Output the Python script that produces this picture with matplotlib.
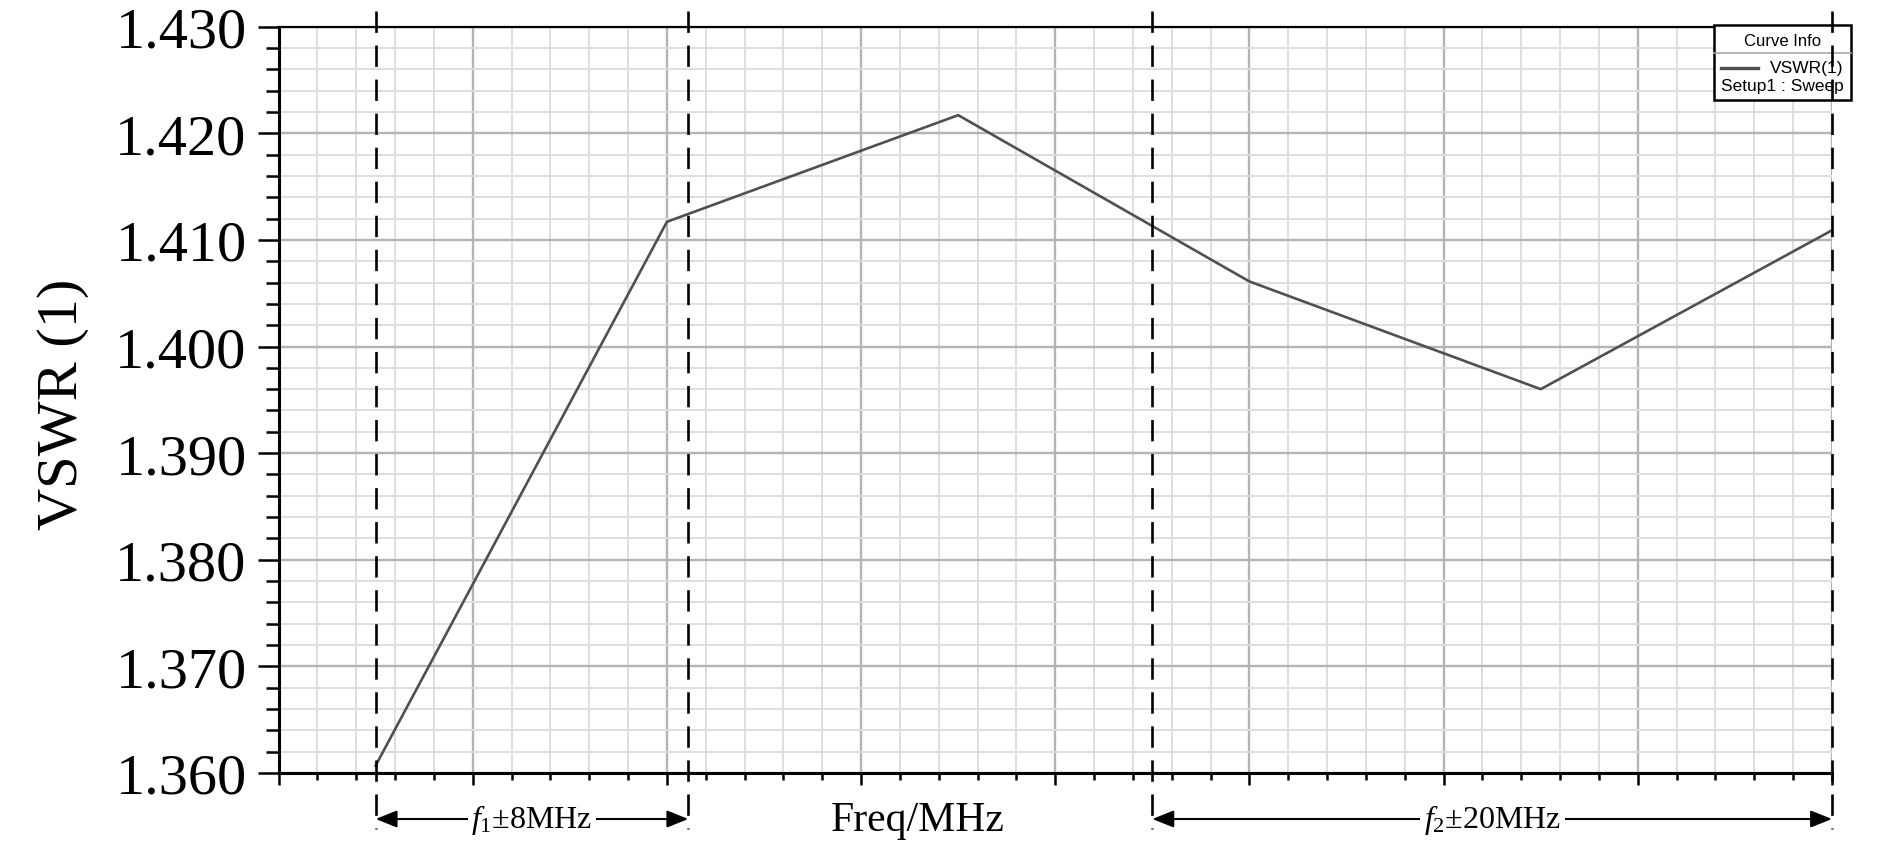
#!/usr/bin/env python3
"""VSWR sweep plot with f1/f2 band markers (HFSS style)."""

import matplotlib
matplotlib.use("Agg")
import matplotlib.pyplot as plt
from matplotlib.patches import Rectangle
from matplotlib.lines import Line2D
from matplotlib.transforms import blended_transform_factory
from matplotlib.ticker import MultipleLocator

plt.rcParams["mathtext.fontset"] = "custom"
plt.rcParams["mathtext.rm"] = "Liberation Serif"
plt.rcParams["mathtext.it"] = "Liberation Serif:italic"

# sweep points (x in major grid divisions, no labels on the x axis)
freq_pos = [0.5, 2.0, 3.5, 5.0, 6.5, 8.0]
vswr     = [1.3607, 1.4117, 1.4217, 1.4061, 1.3960, 1.4109]

# band edges (dashed markers) and their labels
band_edges  = [0.5, 2.11, 4.5, 8.0]
band_labels = [r"$f_1$±8MHz", r"$f_2$±20MHz"]
band_pairs  = [(0.5, 2.11), (4.5, 8.0)]

y_ticks = [1.360, 1.370, 1.380, 1.390, 1.400, 1.410, 1.420, 1.430]

SERIF = "Liberation Serif"
SANS  = "Liberation Sans"
LINE_COLOR = "#505050"

fig = plt.figure(figsize=(18.9, 8.54), dpi=100)
ax = fig.add_axes([0.1474, 0.0937, 0.9693 - 0.1474, 0.9676 - 0.0937])

ax.plot(freq_pos, vswr, color=LINE_COLOR, lw=1.9, zorder=3)

ax.set_xlim(0, 8)
ax.set_ylim(1.360, 1.430)
ax.xaxis.set_major_locator(MultipleLocator(1))
ax.xaxis.set_minor_locator(MultipleLocator(0.2))
ax.set_yticks(y_ticks)
ax.set_yticklabels([f"{v:.3f}" for v in y_ticks], fontfamily=SERIF, fontsize=42)
ax.yaxis.set_minor_locator(MultipleLocator(0.002))
ax.set_xticklabels([])

ax.set_axisbelow(True)
ax.grid(which="major", color="#b4b4b4", lw=1.7)
ax.grid(which="minor", color="#dedede", lw=1.4)

for s in ["left", "bottom", "top"]:
    ax.spines[s].set_linewidth(2.2)
ax.spines["top"].set_linewidth(1.6)
ax.spines["right"].set_visible(False)

ax.tick_params(axis="y", which="major", length=15, width=1.8, pad=8)
ax.tick_params(axis="y", which="minor", length=9.5, width=1.8)
ax.tick_params(axis="x", which="major", length=8.5, width=1.8)
ax.tick_params(axis="x", which="minor", length=5, width=1.8)

# dashed band markers, running past the axes at both ends
trans = blended_transform_factory(ax.transData, fig.transFigure)
for x in band_edges:
    ln = Line2D([x, x], [1 - 12 / 854, 1 - 830 / 854], transform=trans,
                color="black", lw=1.9, linestyle=(0, (8.1, 4.8)), zorder=10)
    fig.add_artist(ln)

# double arrows with labels
arrow_y = 1 - 820 / 854
for (x0, x1), lab in zip(band_pairs, band_labels):
    ax.annotate("", xy=(x1, arrow_y), xytext=(x0, arrow_y),
                xycoords=trans, textcoords=trans,
                arrowprops=dict(arrowstyle="<|-|>,head_length=0.5,head_width=0.2",
                                color="black", lw=1.5,
                                mutation_scale=26, shrinkA=0, shrinkB=0),
                annotation_clip=False)
    ax.text((x0 + x1) / 2, arrow_y, lab, transform=trans, ha="center",
            va="center", fontfamily=SERIF, fontsize=23, zorder=6,
            bbox=dict(boxstyle="square,pad=0.12", fc="white", ec="none"))

fig.text(918 / 1890, 1 - 821 / 854, "Freq/MHz", ha="center", va="center",
         fontfamily=SERIF, fontsize=30)
fig.text(63 / 1890, 0.526, "VSWR (1)", ha="center", va="center",
         rotation=90, fontfamily=SERIF, fontsize=42)

# HFSS-style curve info box
x0, x1 = 1714 / 1890, 1851 / 1890
y0, y1 = 1 - 101 / 854, 1 - 26 / 854
fig.add_artist(Rectangle((x0, y0), x1 - x0, y1 - y0, transform=fig.transFigure,
                         fc="white", ec="black", lw=1.8, zorder=5))
fig.add_artist(Line2D([x0, x1], [1 - 54 / 854] * 2, transform=fig.transFigure,
                      color="#a8a8a8", lw=1.2, zorder=6))
fig.text((x0 + x1) / 2, 1 - 41 / 854, "Curve Info", ha="center", va="center",
         fontfamily=SANS, fontsize=12, zorder=7)
fig.add_artist(Line2D([1721 / 1890, 1758 / 1890], [1 - 69 / 854] * 2,
                      transform=fig.transFigure, color=LINE_COLOR, lw=2.4, zorder=6))
fig.text(1843 / 1890, 1 - 69 / 854, "VSWR(1)", ha="right", va="center",
         fontfamily=SANS, fontsize=12.5, zorder=7)
fig.text(1721 / 1890, 1 - 87 / 854, "Setup1 : Sweep", ha="left", va="center",
         fontfamily=SANS, fontsize=12.5, zorder=7)

fig.savefig("out.png", dpi=100)
plt.close(fig)
